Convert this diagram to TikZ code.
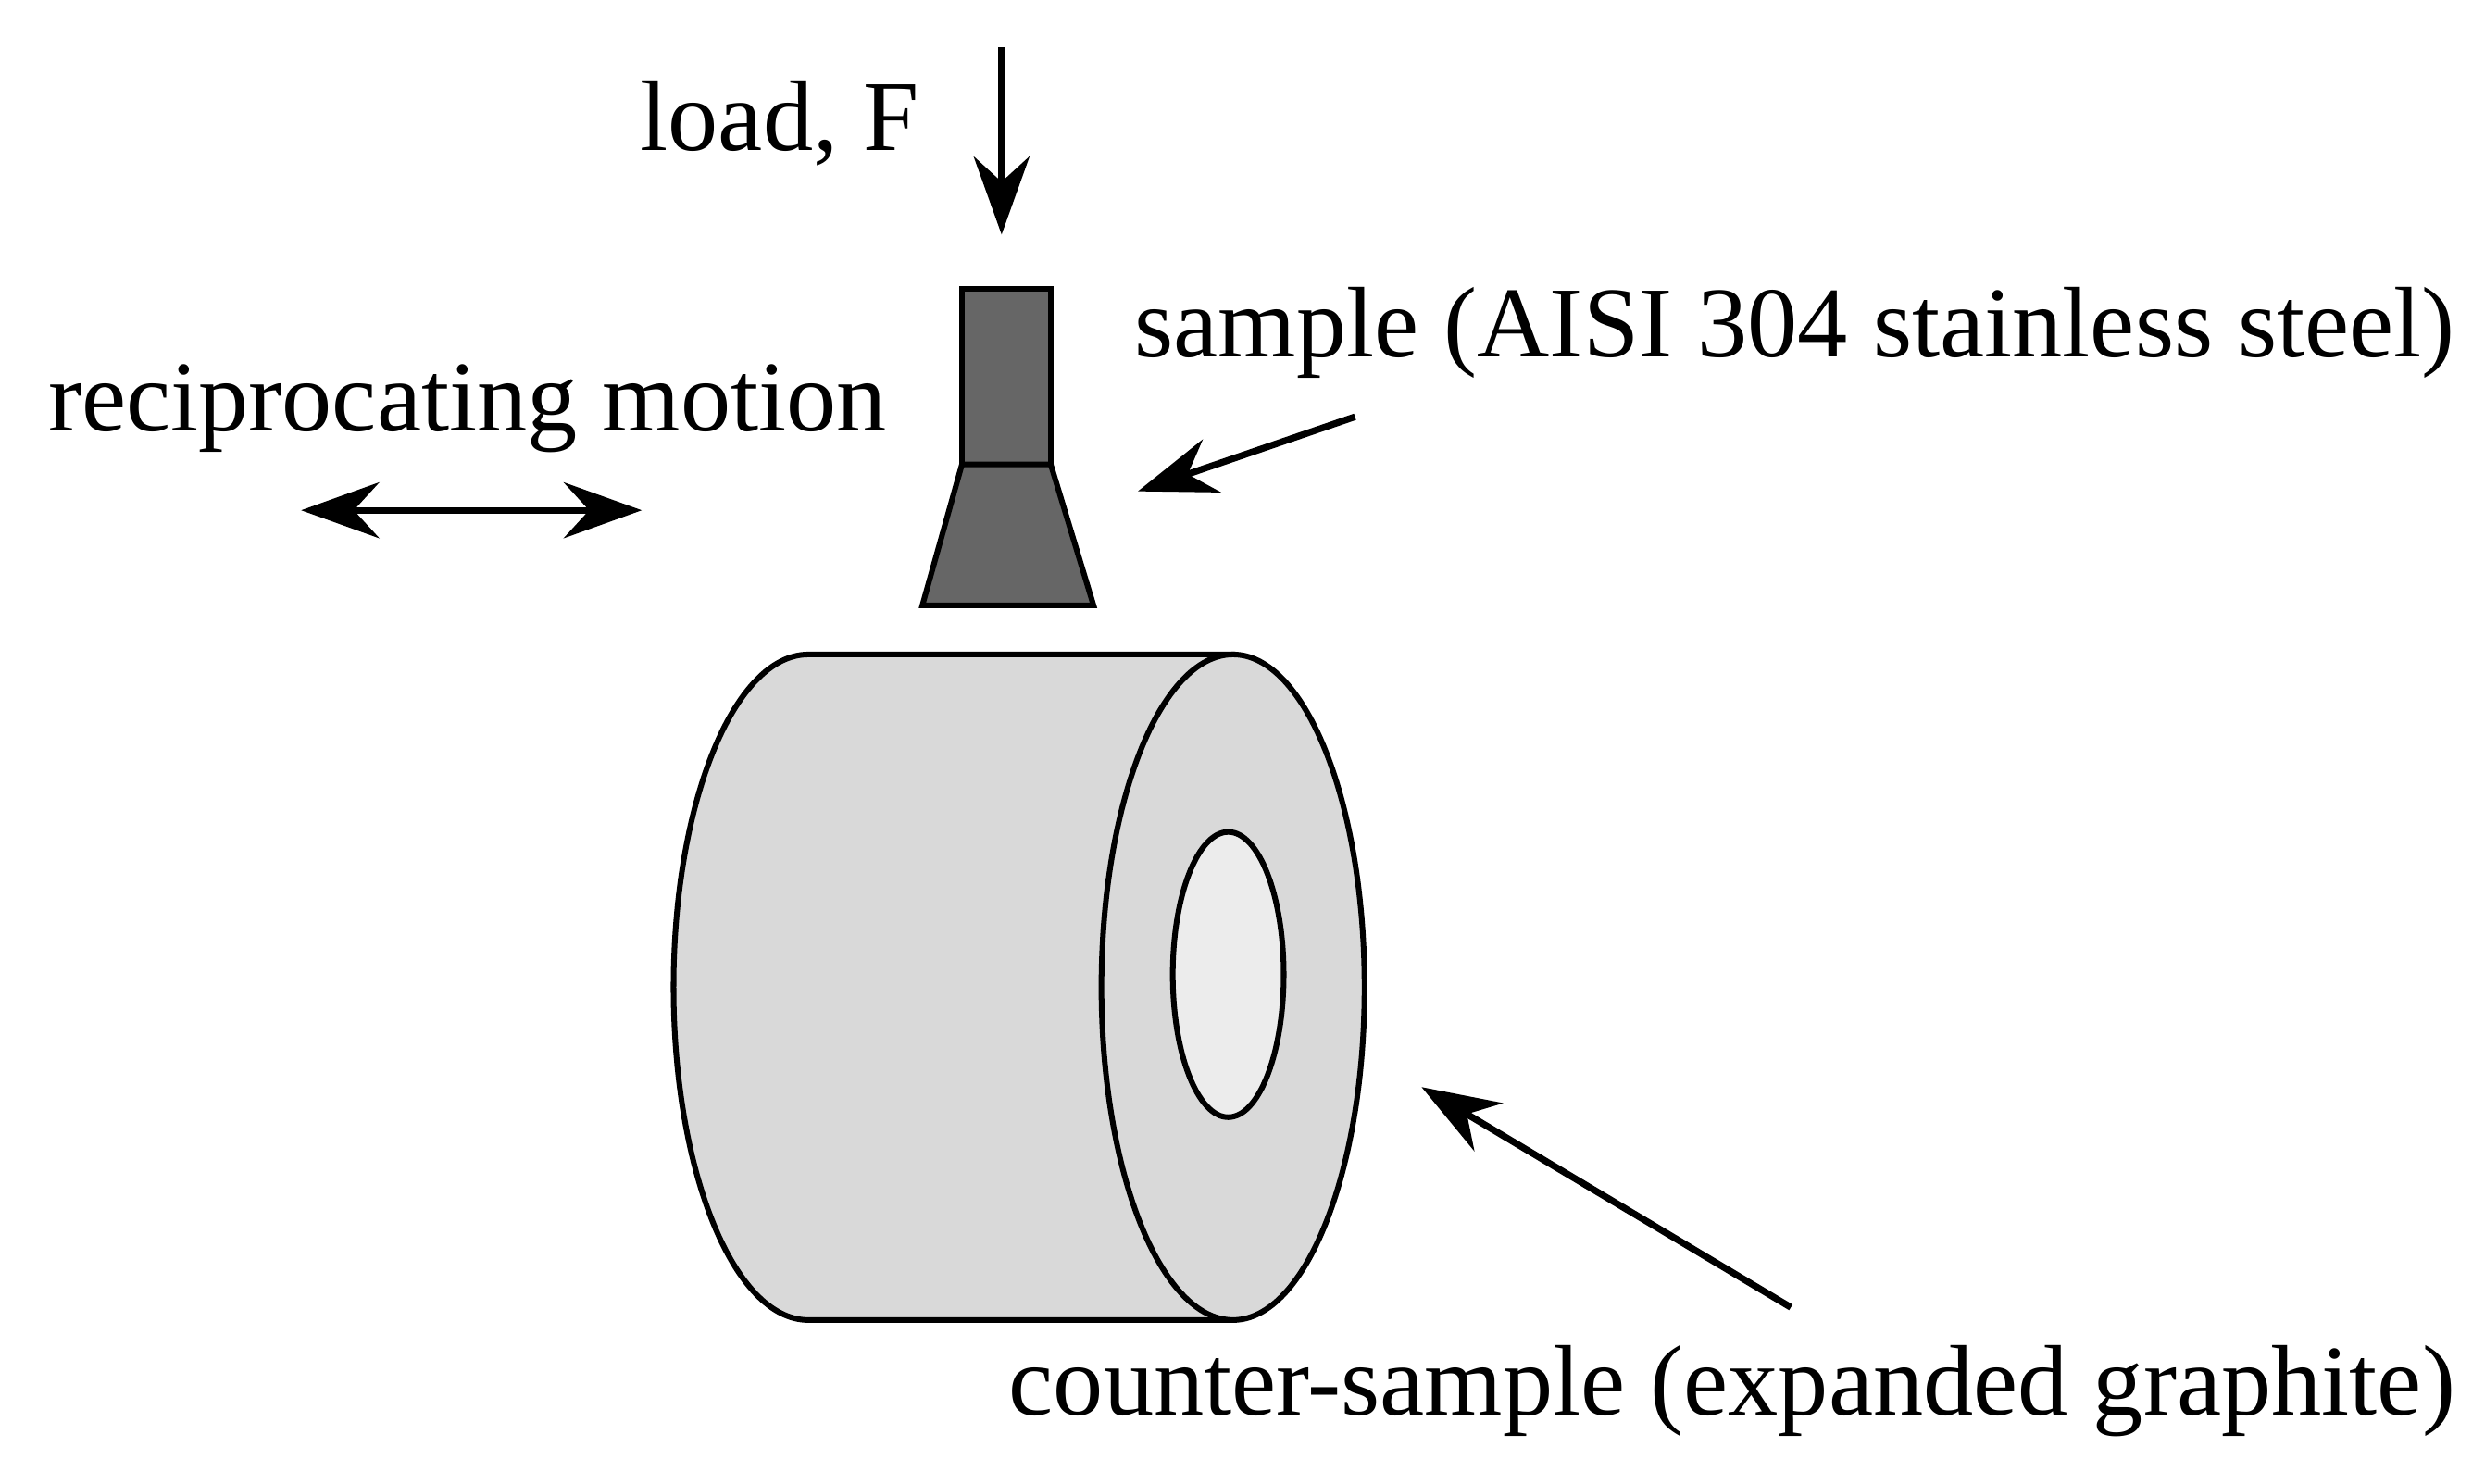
\documentclass[tikz,border=0pt]{standalone}
\usepackage{fontspec}
\setmainfont{Liberation Serif}
\usetikzlibrary{arrows.meta}
\begin{document}
\begin{tikzpicture}[x=0.01cm,y=-0.01cm,
  lbl/.style={font=\fontsize{18}{21}\selectfont,inner sep=0pt},
  arr/.style={-{Stealth[length=14pt,width=10pt]},line width=1.2pt},
  part/.style={draw=black,line width=1pt}]
\useasboundingbox (0,0) rectangle (1568,936);
% cylinder
\path[part,fill=gray!30] (510,413) -- (778,413) -- (778,833) -- (510,833)
  arc[start angle=90,end angle=270,x radius=85,y radius=210] -- cycle;
\draw[part,fill=gray!30] (778,623) ellipse[x radius=83,y radius=210];
\draw[part,fill=gray!15] (775,615) ellipse[x radius=35,y radius=90];
% sample
\draw[part,fill=black!60] (607,182) rectangle (663,293);
\draw[part,fill=black!60] (607,293) -- (663,293) -- (690,382) -- (582,382) -- cycle;
% labels
\node[lbl] (load) at (492,78) {load, F};
\coordinate (lt) at (632,30); \coordinate (lb) at (632,148);
\draw[arr] (lt) -- (lb);
\node[lbl] (recip) at (295,258) {reciprocating motion};
\coordinate (ml) at (190,322); \coordinate (mr) at (405,322);
\draw[{Stealth[length=14pt,width=10pt]}-{Stealth[length=14pt,width=10pt]},line width=1.2pt] (ml) -- (mr);
\node[lbl,anchor=east] (samp) at (1550,210) {sample (AISI 304 stainless steel)};
\coordinate (s1) at (855,263); \coordinate (s2) at (718,310);
\draw[arr] (s1) -- (s2);
\node[lbl,anchor=east] (cs) at (1550,878) {counter-sample (expanded graphite)};
\coordinate (c1) at (1130,825); \coordinate (c2) at (897,686);
\draw[arr] (c1) -- (c2);
\end{tikzpicture}
\end{document}
